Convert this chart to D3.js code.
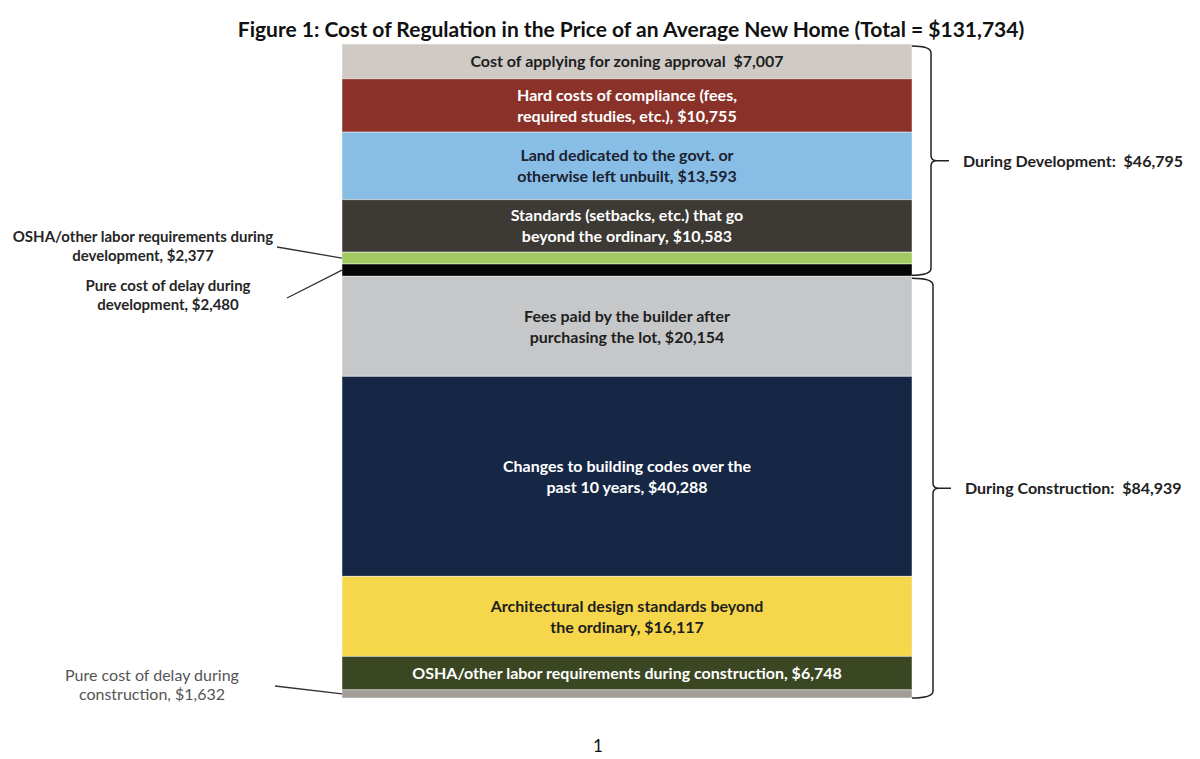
<!DOCTYPE html>
<html>
<head>
<meta charset="utf-8">
<script src="https://cdn.jsdelivr.net/npm/d3@7"></script>
<style>
  body { margin: 0; background: #fff; }
  svg { display: block; font-family: Lato, "Open Sans", sans-serif; }
  text { white-space: pre; }
</style>
</head>
<body>
<svg id="chart" width="1200" height="759"></svg>
<script>
// data
var segLabels = [
  ["Cost of applying for zoning approval  $7,007"],
  ["Hard costs of compliance (fees,", "required studies, etc.), $10,755"],
  ["Land dedicated to the govt. or", "otherwise left unbuilt, $13,593"],
  ["Standards (setbacks, etc.) that go", "beyond the ordinary, $10,583"],
  ["OSHA/other labor requirements during", "development, $2,377"],
  ["Pure cost of delay during", "development, $2,480"],
  ["Fees paid by the builder after", "purchasing the lot, $20,154"],
  ["Changes to building codes over the", "past 10 years, $40,288"],
  ["Architectural design standards beyond", "the ordinary, $16,117"],
  ["OSHA/other labor requirements during construction, $6,748"],
  ["Pure cost of delay during", "construction, $1,632"]
];
var segValues = [7007, 10755, 13593, 10583, 2377, 2480, 20154, 40288, 16117, 6748, 1632];
var phaseNames = ["During Development:  $46,795", "During Construction:  $84,939"];
var phaseCounts = [6, 5];
var titleText = "Figure 1: Cost of Regulation in the Price of an Average New Home (Total = $131,734)";

// styles
var fills = ["#cfcac5", "#8a3229", "#88bde6", "#3d3934", "#a2cc63", "#050505",
             "#c6c7c9", "#162745", "#f6d64b", "#3b4722", "#a29c96"];
var inks = ["#1e1e1e", "#ffffff", "#1b2230", "#ffffff", null, null,
            "#1e1e1e", "#ffffff", "#1e1e1e", "#ffffff", null];

var svg = d3.select("#chart");
var barX = 342, barW = 570, cx = barX + barW / 2;
var total = d3.sum(segValues);
var y = d3.scaleLinear().domain([0, total]).range([44, 698]);

var cum = 0;
var segs = segValues.map(function(v, i) {
  var s = { i: i, v: v, y0: cum, y1: cum + v, lines: segLabels[i] };
  cum += v;
  return s;
});

// title
svg.append("text")
  .attr("x", 631).attr("y", 37)
  .attr("text-anchor", "middle")
  .attr("font-size", 21).attr("font-weight", "bold")
  .attr("fill", "#111")
  .text(titleText);

// bars
svg.selectAll("rect.seg").data(segs).enter().append("rect")
  .attr("class", "seg")
  .attr("x", barX).attr("width", barW)
  .attr("y", function(d) { return y(d.y0); })
  .attr("height", function(d) { return y(d.y1) - y(d.y0); })
  .attr("fill", function(d) { return fills[d.i]; })
  .attr("stroke", "rgba(255,255,255,0.45)")
  .attr("stroke-width", 1);

// inside labels
var inside = segs.filter(function(d) { return inks[d.i]; });
inside.forEach(function(d) {
  var mid = (y(d.y0) + y(d.y1)) / 2;
  var n = d.lines.length, lh = 21;
  d.lines.forEach(function(t, k) {
    svg.append("text")
      .attr("x", cx)
      .attr("y", mid + 6 + (k - (n - 1) / 2) * lh)
      .attr("text-anchor", "middle")
      .attr("font-size", 16).attr("font-weight", "bold")
      .attr("fill", inks[d.i])
      .text(t);
  });
});

// callouts for thin segments
var callouts = [
  { i: 4, x: 143, y: 242, lx: 277, ly: 247, col: "#262626", w: "bold", fs: 15 },
  { i: 5, x: 168, y: 291, lx: 287, ly: 298, col: "#262626", w: "bold", fs: 15 },
  { i: 10, x: 152, y: 681, lx: 275, ly: 686, col: "#555555", w: "normal", fs: 16 }
];
callouts.forEach(function(c) {
  var d = segs[c.i];
  var my = (y(d.y0) + y(d.y1)) / 2;
  svg.append("line")
    .attr("x1", c.lx).attr("y1", c.ly)
    .attr("x2", barX).attr("y2", my)
    .attr("stroke", "#333").attr("stroke-width", 1.3);
  d.lines.forEach(function(t, k) {
    svg.append("text")
      .attr("x", c.x).attr("y", c.y + k * 19)
      .attr("text-anchor", "middle")
      .attr("font-size", c.fs).attr("font-weight", c.w)
      .attr("fill", c.col)
      .text(t);
  });
});

// braces
function brace(x0, xv, xt, ya, yb) {
  var ym = (ya + yb) / 2, r = 7;
  return "M" + x0 + "," + ya +
    " Q" + xv + "," + ya + " " + xv + "," + (ya + r) +
    " L" + xv + "," + (ym - 5) +
    " Q" + xv + "," + ym + " " + (xv + 6) + "," + ym +
    " L" + xt + "," + ym +
    " M" + (xv + 6) + "," + ym +
    " Q" + xv + "," + ym + " " + xv + "," + (ym + 5) +
    " L" + xv + "," + (yb - r) +
    " Q" + xv + "," + yb + " " + x0 + "," + yb;
}
var start = 0;
phaseNames.forEach(function(name, p) {
  var first = segs[start], last = segs[start + phaseCounts[p] - 1];
  start += phaseCounts[p];
  var ya = y(first.y0) + 2, yb = y(last.y1) - (p === 0 ? 1 : 0);
  var xv = p === 0 ? 931 : 933;
  svg.append("path")
    .attr("d", brace(barX + barW, xv, xv + 18, ya, yb))
    .attr("fill", "none").attr("stroke", "#222").attr("stroke-width", 1.5);
  svg.append("text")
    .attr("x", xv + 32).attr("y", (ya + yb) / 2 + 6)
    .attr("font-size", 16).attr("font-weight", "bold")
    .attr("fill", "#222")
    .text(name);
});

// page number
svg.append("text")
  .attr("x", 598).attr("y", 752)
  .attr("text-anchor", "middle")
  .attr("font-size", 17).attr("fill", "#111")
  .text("1");
</script>
</body>
</html>
